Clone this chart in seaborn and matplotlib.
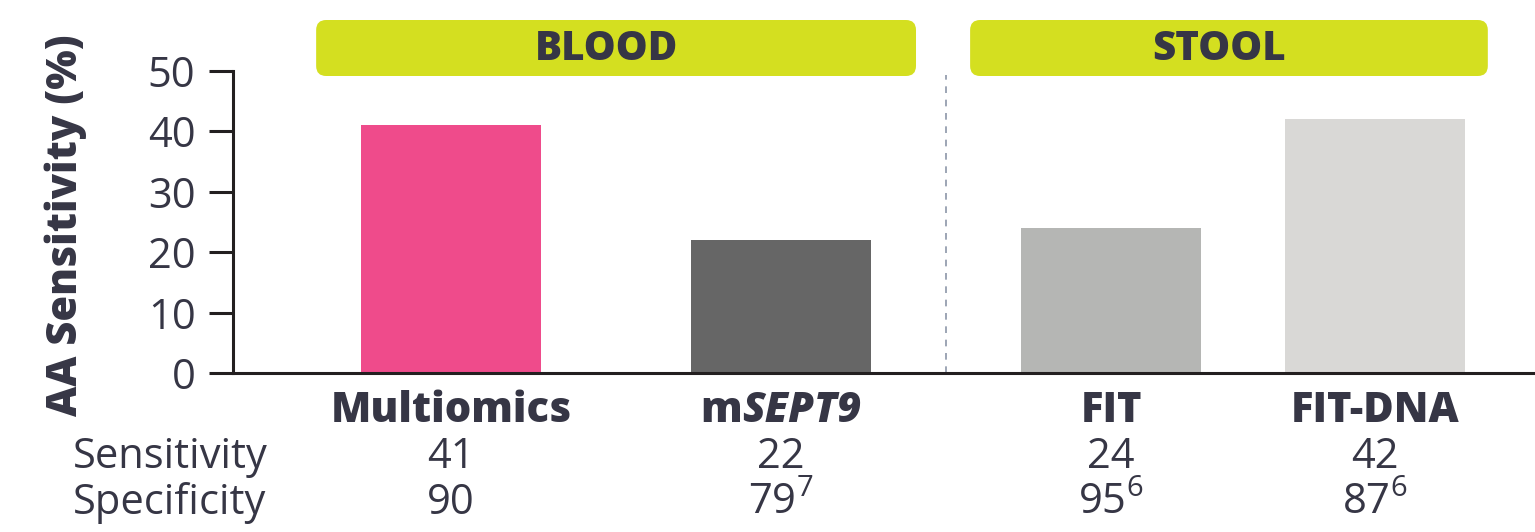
import matplotlib
matplotlib.use("Agg")
import matplotlib.pyplot as plt
import matplotlib.transforms as mtransforms
from matplotlib.patches import FancyBboxPatch
import seaborn as sns
import pandas as pd

# --- data -------------------------------------------------------------
tests = ["Multiomics", "mSEPT9", "FIT", "FIT-DNA"]
sensitivity = [41, 22, 24, 42]
specificity = [90, 79, 95, 87]
spec_refs = ["", "7", "6", "6"]
groups = ["BLOOD", "STOOL"]
yticks = [0, 10, 20, 30, 40, 50]

# --- layout / style ---------------------------------------------------
positions = [0.0, 1.0, 2.0, 2.8]
group_spans = [(-0.409, 1.409), (1.573, 3.142)]
bar_colors = ["#EF4B8B", "#666666", "#B5B6B4", "#D9D8D6"]
ink = "#363645"
axis_ink = "#231F20"
lime = "#D4DF20"
FONT = "Open Sans"

sns.set_theme(style="white")
plt.rcParams["font.family"] = [FONT, "DejaVu Sans"]
plt.rcParams["mathtext.fontset"] = "custom"
plt.rcParams["mathtext.rm"] = FONT

W, H = 1535, 532
fig = plt.figure(figsize=(W / 100, H / 100), dpi=100)
ax = fig.add_axes([233 / W, 159 / H, 1302 / W, 302 / H])

df = pd.DataFrame({"test": tests, "pos": positions, "sens": sensitivity})
sns.barplot(data=df, x="pos", y="sens", hue="test", palette=bar_colors,
            hue_order=tests, native_scale=True, width=0.682, saturation=1,
            linewidth=0, legend=False, ax=ax)

XMIN, XMAX = -0.661, 3.285
ax.set_xlim(XMIN, XMAX)
ax.set_ylim(0, 50)
ax.set_yticks(yticks)
ax.set_yticklabels([str(t) for t in yticks], fontsize=30, color=ink)
ax.tick_params(axis="y", left=True, length=17, width=2.2, color=axis_ink,
               pad=10)
ax.set_xticks([])
ax.set_xlabel("")
ax.set_ylabel("AA Sensitivity (%)", fontsize=30, fontweight="heavy",
              color=ink)
ax.yaxis.set_label_coords((87 - 233) / 1302, (373 - 225) / 302)
for s in ["top", "right"]:
    ax.spines[s].set_visible(False)
for s in ["left", "bottom"]:
    ax.spines[s].set_color(axis_ink)
    ax.spines[s].set_linewidth(2.2)

# divider between the sample types
ax.plot([1.5, 1.5], [0, 49.3], ls=(0, (4, 4)), lw=1.2, color="#8C96A8",
        clip_on=False)

# blended transform: x in data units, y in figure fraction
bt = mtransforms.blended_transform_factory(ax.transData, fig.transFigure)

def fy(py):
    return 1 - py / H

# group header boxes
x_unit_px = 1302 / (XMAX - XMIN)
for name, (x0, x1) in zip(groups, group_spans):
    box = FancyBboxPatch((x0, fy(76)), x1 - x0, (76 - 20) / H,
                         boxstyle=f"round,pad=0,rounding_size={10 / x_unit_px}",
                         mutation_aspect=x_unit_px / H,
                         transform=bt, facecolor=lime, edgecolor="none",
                         clip_on=False)
    ax.add_patch(box)
    ax.text((x0 + x1) / 2 - 0.03, fy(49), name, transform=bt, ha="center",
            va="center", fontsize=29, fontweight="heavy", color=ink,
            clip_on=False)

# category labels under the bars
fig.canvas.draw()
renderer = fig.canvas.get_renderer()
for t, x in zip(tests, positions):
    if t == "mSEPT9":
        a = ax.text(x, fy(422), "m", transform=bt, ha="left", va="baseline",
                    fontsize=30, fontweight="heavy", color=ink)
        b = ax.text(x, fy(422), "SEPT9", transform=bt, ha="left",
                    va="baseline", fontsize=30, fontweight="heavy",
                    style="italic", color=ink)
        wa = a.get_window_extent(renderer).width
        wb = b.get_window_extent(renderer).width
        xpix = ax.transData.transform((x, 0))[0]
        inv = ax.transData.inverted()
        start = xpix - (wa + wb) / 2
        a.set_x(inv.transform((start, 0))[0])
        b.set_x(inv.transform((start + wa, 0))[0])
    else:
        ax.text(x, fy(422), t, transform=bt, ha="center", va="baseline",
                fontsize=30, fontweight="heavy", color=ink)

# sensitivity / specificity rows
row_x = (73 - 451) / x_unit_px
ax.text(row_x, fy(468), "Sensitivity", transform=bt, ha="left",
        va="baseline", fontsize=30, color=ink)
ax.text(row_x, fy(514), "Specificity", transform=bt, ha="left",
        va="baseline", fontsize=30, color=ink)
for x, se, sp, ref in zip(positions, sensitivity, specificity, spec_refs):
    ax.text(x, fy(468), f"{se}", transform=bt, ha="center", va="baseline",
            fontsize=30, color=ink)
    label = f"{sp}" if not ref else rf"$\mathregular{{{sp}^{{{ref}}}}}$"
    ax.text(x, fy(514), label, transform=bt, ha="center", va="baseline",
            fontsize=30, color=ink)

fig.savefig("out.png", dpi=100)
